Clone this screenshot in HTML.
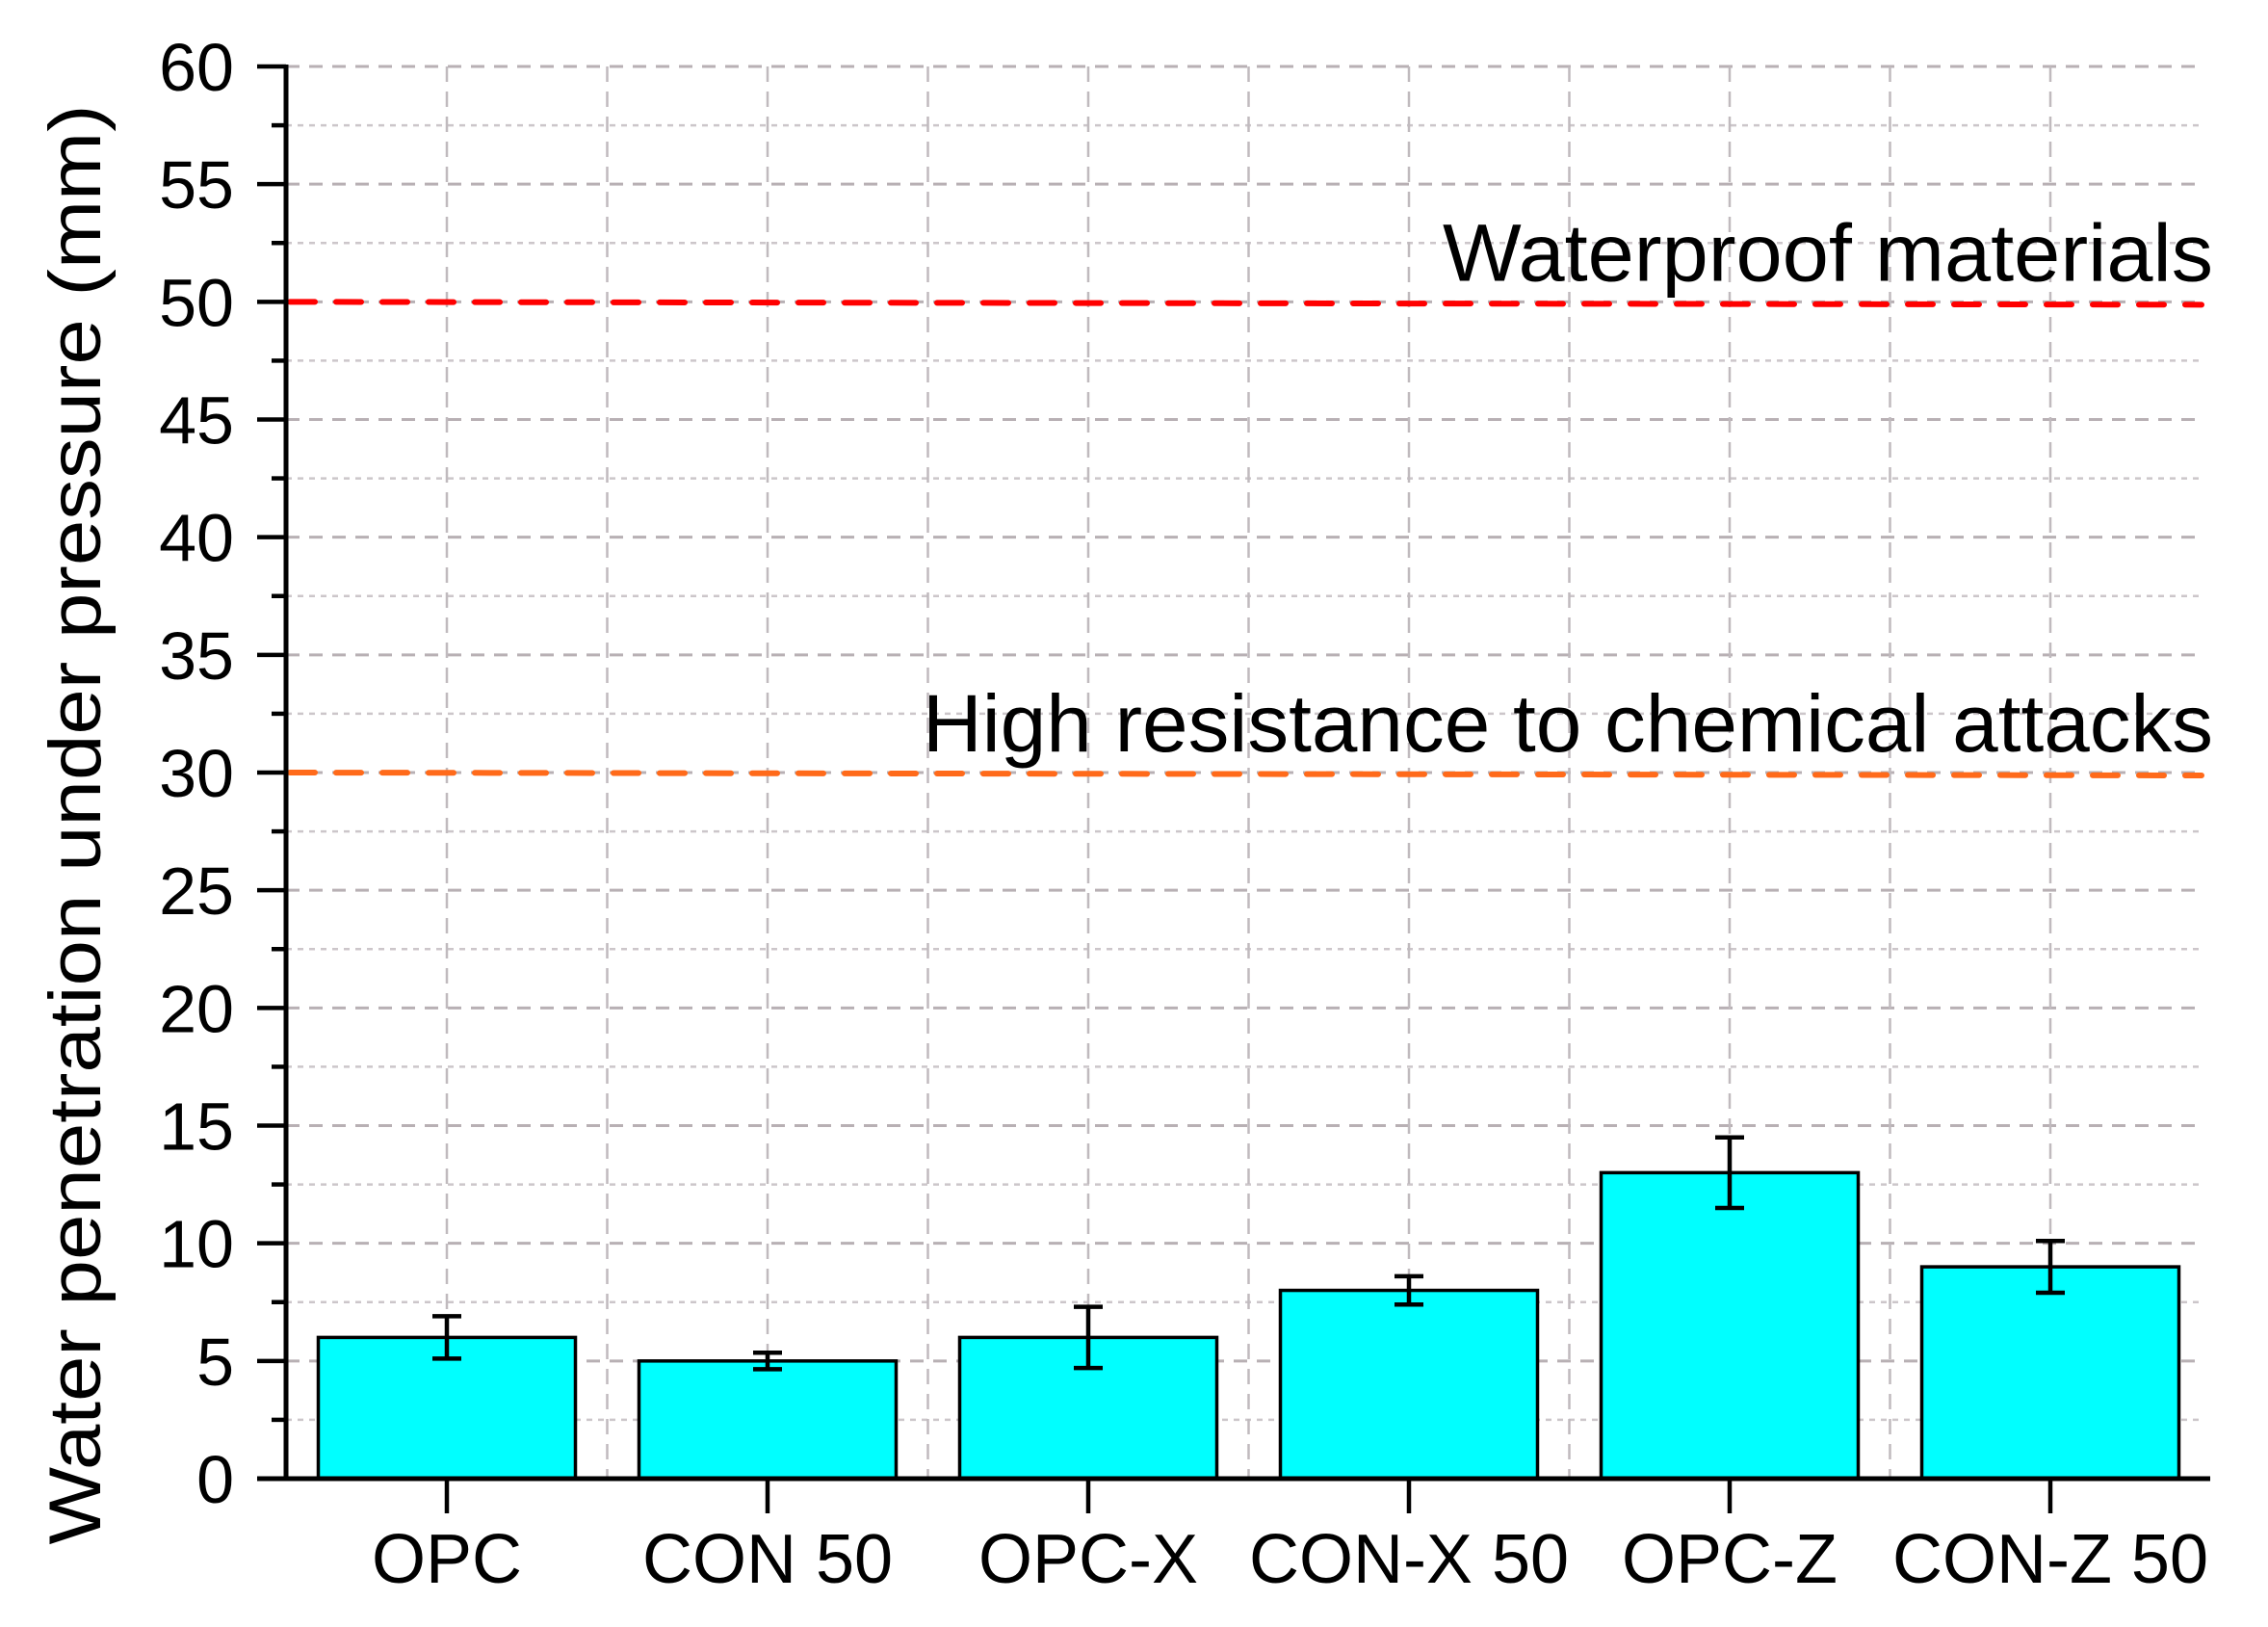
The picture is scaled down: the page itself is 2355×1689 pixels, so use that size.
<!DOCTYPE html>
<html><head><meta charset="utf-8">
<style>
html,body{margin:0;padding:0;background:#fff;}
svg{display:block;font-family:"Liberation Sans",Arial,sans-serif;}
</style></head>
<body>
<svg id="chart" width="2355" height="1689" viewBox="0 0 2355 1689" xmlns="http://www.w3.org/2000/svg">
<rect x="0" y="0" width="2355" height="1689" fill="#fff"/>
<g id="grid"></g>
<g id="refs"></g>
<g id="bars"></g>
<g id="axes"></g>
<text transform="translate(104,856) rotate(-90)" text-anchor="middle" font-size="76" textLength="1495" lengthAdjust="spacingAndGlyphs">Water penetration under pressure (mm)</text>
</svg>
<script>
const categories = ["OPC","CON 50","OPC-X","CON-X 50","OPC-Z","CON-Z 50"];
const values = [6,5,6,8,13,9];
const errors = [0.9,0.35,1.3,0.6,1.5,1.1];
const yTicks = [0,5,10,15,20,25,30,35,40,45,50,55,60];
const refValues = [50,30];
const refLabels = ["Waterproof materials","High resistance to chemical attacks"];

const NS="http://www.w3.org/2000/svg";
const X0=297, X1=2295, Y0=1535, Y1=69, YMAX=60, GX1=2286;
const firstC=464, step=333, barW=267;
function y(v){return Y0-(v/YMAX)*(Y0-Y1);}
function xc(i){return firstC+i*step;}
function mk(tag,attrs,parent,text){const e=document.createElementNS(NS,tag);for(const k in attrs)e.setAttribute(k,attrs[k]);if(text!==undefined)e.textContent=text;parent.appendChild(e);return e;}
const grid=document.getElementById('grid'),refs=document.getElementById('refs'),bars=document.getElementById('bars'),axes=document.getElementById('axes');

for(let v=2.5; v<=YMAX; v+=2.5){
  const major = (v%5===0);
  const l=mk('line',{x1:X0,x2:GX1,y1:y(v),y2:y(v),stroke:major?'#b8b0b4':'#ccc6ca','stroke-width':major?3:2.5,'stroke-dasharray':major?'14 10':'6 6'},grid);
  
  
}
for(let k=0;k<categories.length*2-1;k++){
  const gx=firstC+k*step/2;
  const l=mk('line',{x1:gx,x2:gx,y1:Y1,y2:Y0,stroke:'#c0babe','stroke-width':2.5,'stroke-dasharray':'16 10'},grid);
  
  
}
const refColors=['#ff0000','#ff6a1a'];
const refWidths=[800,1340];
refValues.forEach((rv,i)=>{
  const l=mk('line',{x1:X0+4,x2:GX1,y1:y(rv),y2:y(rv)+3,stroke:refColors[i],'stroke-width':6,'stroke-dasharray':'26 22','stroke-linecap':'round'},refs);
  
  
  const t=mk('text',{x:2298,y:y(rv)-22,'text-anchor':'end','font-size':84,fill:'#000',textLength:refWidths[i],lengthAdjust:'spacingAndGlyphs'},refs,refLabels[i]);
  
  
});
categories.forEach((c,i)=>{
  const cx=xc(i), top=y(values[i]);
  const r=mk('rect',{x:cx-barW/2,y:top,width:barW,height:Y0-top,fill:'#00ffff',stroke:'#000','stroke-width':3.5},bars);
  
  
  const hi=y(values[i]+errors[i]), lo=y(values[i]-errors[i]);
  const g=mk('g',{stroke:'#000','stroke-width':4.5},bars);
  
  
  mk('line',{x1:cx,x2:cx,y1:hi,y2:lo},g);
  mk('line',{x1:cx-15,x2:cx+15,y1:hi,y2:hi},g);
  mk('line',{x1:cx-15,x2:cx+15,y1:lo,y2:lo},g);
  const t=mk('text',{x:cx,y:1643,'text-anchor':'middle','font-size':72,fill:'#000'},axes,c);
  
  
  const tk=mk('line',{x1:cx,x2:cx,y1:Y0,y2:Y0+36,stroke:'#000','stroke-width':4.5},axes);
  
  
});
const ya=mk('line',{x1:X0,x2:X0,y1:Y1-2,y2:Y0+2,stroke:'#000','stroke-width':5},axes);


const xa=mk('line',{x1:X0-30,x2:X1,y1:Y0,y2:Y0,stroke:'#000','stroke-width':5},axes);


yTicks.forEach(v=>{
  const tk=mk('line',{x1:X0-30,x2:X0,y1:y(v),y2:y(v),stroke:'#000','stroke-width':4.5},axes);
  
  
  const t=mk('text',{x:243,y:y(v)+25,'text-anchor':'end','font-size':70,fill:'#000'},axes,String(v));
  
  
});
for(let v=2.5; v<YMAX; v+=5){
  const tk=mk('line',{x1:X0-15,x2:X0,y1:y(v),y2:y(v),stroke:'#000','stroke-width':4.5},axes);
  
  
}
</script>
</body></html>
